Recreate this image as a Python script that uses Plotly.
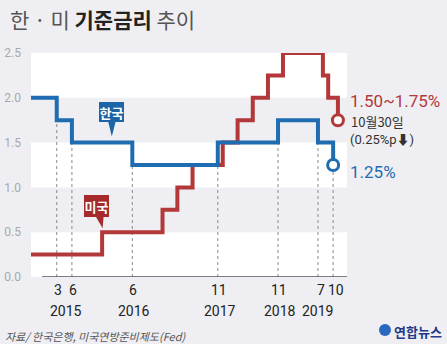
import plotly.graph_objects as go
from datetime import date

# ---------------- data ----------------
start_date = "2014-09-26"
end_date = "2019-12-24"

kr_dates = [start_date, "2015-03-01", "2015-06-01", "2016-06-01", "2017-11-01",
            "2018-11-01", "2019-07-01", "2019-10-01"]
kr_rates = [2.00, 1.75, 1.50, 1.25, 1.50, 1.75, 1.50, 1.25]

us_dates = [start_date, "2015-12-01", "2016-12-01", "2017-03-01", "2017-06-01",
            "2017-12-01", "2018-03-01", "2018-06-01", "2018-09-01", "2018-12-01",
            "2019-07-31", "2019-09-01", "2019-10-30"]
us_rates = [0.25, 0.50, 0.75, 1.00, 1.25, 1.50, 1.75, 2.00, 2.25, 2.50, 2.25, 2.00, 1.75]

month_labels = ["3", "6", "6", "11", "11", "7", "10"]
year_labels = ["2015", "2016", "2017", "2018", "2019"]
y_ticks = [0.0, 0.5, 1.0, 1.5, 2.0, 2.5]

title_text = ('<span style="color:#555">한 · 미 </span><b>기준금리</b>'
              '<span style="color:#555"> 추이</span>')
source_text = "<i>자료/ 한국은행, 미국연방준비제도(Fed)</i>"

# ---------------- style ----------------
BG = "#efeff3"
BLUE = "#1f6db0"
BLUE_BOX = "#1b64a5"
RED = "#b3383a"
RED_BOX = "#a6292b"
KFONT = "Noto Sans CJK KR, Noto Sans, sans-serif"
NFONT = "Liberation Sans Narrow, Roboto, Noto Sans CJK KR, sans-serif"

W, H = 447, 344
ML, MR, MT, MB = 31, 100, 53, 67
PW, PH = W - ML - MR, H - MT - MB
Y_MAX = 2.5

fig = go.Figure()

# dotted guide lines at Korean rate changes (from 0 to lower of before/after)
change_dates = kr_dates[1:]
for i, d in enumerate(change_dates):
    lo = min(kr_rates[i], kr_rates[i + 1])
    fig.add_trace(go.Scatter(x=[d, d], y=[0, lo], mode="lines",
                             line=dict(color="#8a8a8a", width=1, dash="dot"),
                             hoverinfo="skip", showlegend=False))

fig.add_trace(go.Scatter(x=us_dates, y=us_rates, mode="lines", line_shape="hv",
                         line=dict(color=RED, width=4), showlegend=False))
fig.add_trace(go.Scatter(x=kr_dates, y=kr_rates, mode="lines", line_shape="hv",
                         line=dict(color=BLUE, width=4), showlegend=False))
fig.add_trace(go.Scatter(x=[us_dates[-1]], y=[us_rates[-1]], mode="markers",
                         marker=dict(size=11, color="white", line=dict(color=RED, width=3)),
                         showlegend=False))
fig.add_trace(go.Scatter(x=[kr_dates[-1]], y=[kr_rates[-1]], mode="markers",
                         marker=dict(size=11, color="white", line=dict(color=BLUE, width=3)),
                         showlegend=False))


def to_ord(s):
    return date.fromisoformat(s).toordinal()


def xpaper(d):
    return (to_ord(d) - to_ord(start_date)) / (to_ord(end_date) - to_ord(start_date))


shapes = []
# white bands
for y0 in (0.0, 1.0, 2.0):
    shapes.append(dict(type="rect", xref="paper", yref="y", x0=0, x1=1, y0=y0, y1=y0 + 0.5,
                       fillcolor="white", line=dict(width=0), layer="below"))
# bottom axis line
shapes.append(dict(type="line", xref="paper", yref="y", x0=0.035, x1=1, y0=0, y1=0,
                   line=dict(color="#555", width=1.5)))

ann = []


def bubble(d, v, tip_dy, cx, bottom, bw, bh, tail, color, label):
    """speech bubble: box via annotation, tail via path (pixel offsets, up positive)."""
    x0 = xpaper(d)
    y0 = v / Y_MAX + tip_dy / PH

    def P(px, py):
        return f"{x0 + px / PW:.5f},{y0 + py / PH:.5f}"

    p = (f"M {P(tail[0], bottom + 1)} L {P(tail[1], 0)} L {P(tail[2], bottom + 1)} Z")
    shapes.append(dict(type="path", xref="paper", yref="paper", path=p,
                       fillcolor=color, line=dict(width=0)))
    ann.append(dict(x=d, y=v, xref="x", yref="y", text=f"<b>{label}</b>",
                    showarrow=False, xanchor="center", yanchor="bottom",
                    xshift=cx, yshift=tip_dy + bottom, width=bw, height=bh,
                    bgcolor=color, borderpad=0, borderwidth=0, align="center",
                    valign="middle", font=dict(family=KFONT, size=13, color="white")))


bubble("2016-01-29", 1.5, 6, 0, 15, 25, 20, (-4, 0, 4), BLUE_BOX, "한국")
bubble("2015-12-04", 0.5, 4, -6, 11, 25, 22, (-7, 0, 1), RED_BOX, "미국")

# logo icon
shapes.append(dict(type="circle", xref="paper", yref="paper",
                   x0=(379 - ML) / PW, x1=(391 - ML) / PW,
                   y0=(MT + PH - 336) / PH, y1=(MT + PH - 324) / PH,
                   fillcolor="#2a67c0", line=dict(width=0)))

# right side labels
ann.append(dict(x=1, y=us_rates[-1], xref="paper", yref="y", xanchor="left", xshift=1,
                yshift=19, showarrow=False, text="1.50~1.75%",
                font=dict(family=NFONT, size=17, color=RED)))
ann.append(dict(x=1, y=us_rates[-1], xref="paper", yref="y", xanchor="left", xshift=2,
                yshift=-1, showarrow=False, text="10월30일",
                font=dict(family=KFONT, size=13, color="#333")))
ann.append(dict(x=1, y=us_rates[-1], xref="paper", yref="y", xanchor="left", xshift=1,
                yshift=-19, showarrow=False, text="(0.25%p⬇)",
                font=dict(family=NFONT, size=13, color="#333")))
ann.append(dict(x=1, y=kr_rates[-1], xref="paper", yref="y", xanchor="left", xshift=1,
                yshift=-7, showarrow=False, text="1.25%",
                font=dict(family=NFONT, size=17, color=BLUE)))

# month labels
n_m = len(month_labels)
for i, (d, m) in enumerate(zip(change_dates, month_labels)):
    ann.append(dict(x=d, y=-0.058, xref="x", yref="paper", text=m, showarrow=False,
                    yanchor="middle", xshift=(3 if i >= n_m - 2 else 1),
                    font=dict(family=NFONT, size=14, color="#222")))

# year labels at mean of that year's change dates
for yl in year_labels:
    ds = [to_ord(d) for d in change_dates if d.startswith(yl)]
    mid = date.fromordinal(round(sum(ds) / len(ds))).isoformat()
    ann.append(dict(x=mid, y=-0.152, xref="x", yref="paper", text=yl, showarrow=False,
                    yanchor="middle", xshift=(-8 if yl == "2019" else 2),
                    font=dict(family=NFONT, size=14, color="#222")))

# title
ann.append(dict(x=(8 - ML) / PW, y=(MT + PH - 19) / PH, xref="paper", yref="paper",
                xanchor="left", yanchor="middle", showarrow=False, text=title_text,
                font=dict(family=KFONT, size=21, color="#222")))
# source
ann.append(dict(x=(3 - ML) / PW, y=(MT + PH - 336) / PH, xref="paper", yref="paper",
                xanchor="left", yanchor="middle", showarrow=False, text=source_text,
                font=dict(family=KFONT, size=11, color="#555")))
# logo text
ann.append(dict(x=(392 - ML) / PW, y=(MT + PH - 331) / PH, xref="paper", yref="paper",
                xanchor="left", yanchor="middle", showarrow=False, text="<b>연합뉴스</b>",
                font=dict(family=KFONT, size=13, color="#1e3a8a")))

fig.update_layout(
    width=W, height=H,
    margin=dict(l=ML, r=MR, t=MT, b=MB),
    paper_bgcolor=BG, plot_bgcolor=BG,
    shapes=shapes, annotations=ann,
    xaxis=dict(range=[start_date, end_date], showgrid=False, zeroline=False,
               showticklabels=False, showline=False, fixedrange=True, automargin=False),
    yaxis=dict(range=[0, Y_MAX], tickvals=y_ticks, tickformat=".1f", showgrid=False,
               zeroline=False, showline=False, ticks="", ticklabelstandoff=9,
               automargin=False,
               tickfont=dict(family=NFONT, size=12, color="#a8a8a8")),
    showlegend=False,
)

fig.write_html("out.html")
